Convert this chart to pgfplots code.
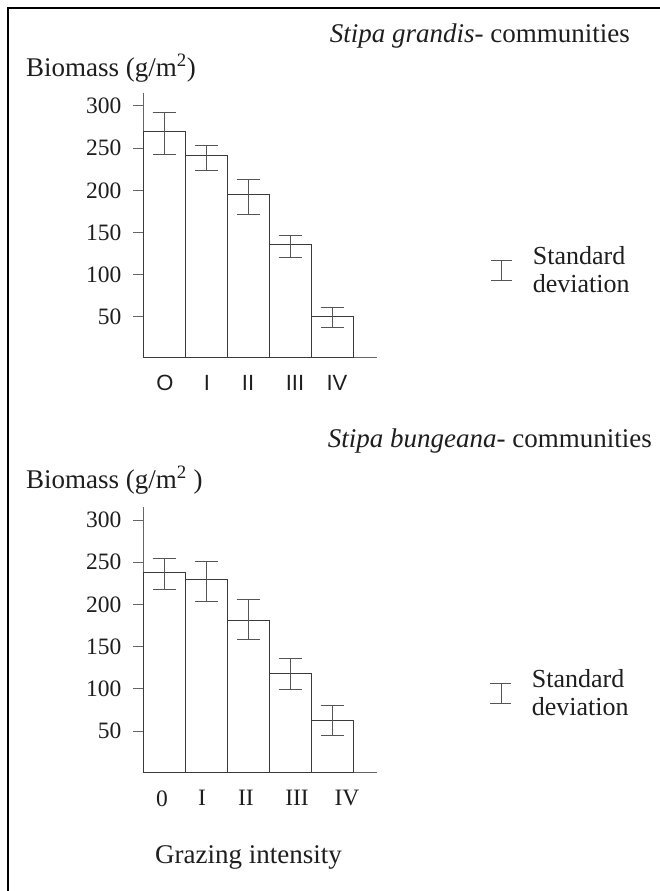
\documentclass[border=0pt]{standalone}
\usepackage{fontspec}
\setmainfont{Liberation Serif}
\setsansfont{Liberation Sans}
\usepackage{pgfplots}
\pgfplotsset{compat=1.18}
\usepackage{pgfplotstable}

\pgfplotstableread{
x y ep em
0 270 22 28
1 241 12 17
2 195 18 23
3 136 11 15
4 50 11 13
}\grandis
\pgfplotstableread{
x y ep em
0 238 16 20
1 230 21 26
2 181 25 23
3 118 18 19
4 63 17 18
}\bungeana

\definecolor{barline}{HTML}{3A3A3A}
\definecolor{axisgray}{HTML}{666666}
\definecolor{errgray}{HTML}{555555}
\definecolor{txt}{HTML}{1E1E1E}

\pgfplotsset{
 panel/.style={
  scale only axis, width=234pt, height=264.6pt,
  xmin=-0.5, xmax=5.071, ymin=1.5, ymax=315,
  axis x line*=bottom, axis y line*=left,
  axis line style={axisgray, line width=1pt},
  ytick={50,100,...,300},
  tick align=outside, major tick length=10pt,
  y tick style={axisgray, line width=1pt},
  x tick style={draw=none},
  /pgf/number format/assume math mode=true,
  yticklabel style={font=\fontsize{23.5}{27}\selectfont, text=txt, xshift=-8pt},
  clip=false,
  legend style={draw=none, fill=none, inner sep=0pt, outer sep=0pt, anchor=west,
    font=\fontsize{26}{28}\selectfont, text=txt, nodes={align=left, inner sep=0pt}, column sep=20pt},
 },
 sdbars/.style={ybar, bar width=42pt, fill=white, draw=barline, line width=1pt,
   error bars/.cd, y dir=both, y explicit, error mark=|,
   error bar style={errgray, line width=0.9pt},
   error mark options={errgray, line width=0.9pt, mark size=11.5pt}},
 sdimage/.style={legend image code/.code={\draw[errgray, line width=0.9pt] (0pt,-10pt)--(21pt,-10pt) (0pt,10pt)--(21pt,10pt) (10.5pt,-10pt)--(10.5pt,10pt);}},
}

\begin{document}
\begin{tikzpicture}
\path[use as bounding box] (0pt,0pt) rectangle (660pt,-891pt);
\draw[line width=2.8pt, black] (8pt,-891pt) -- (8pt,-8pt) -- (660pt,-8pt);

\begin{axis}[panel, at={(143pt,-357.9pt)}, anchor=south west,
  xtick={0.024,1.024,2.0,3.119,4.119}, xticklabels={O,I,II,III,IV},
  xticklabel style={font=\sffamily\fontsize{22}{26}\selectfont, text=txt, yshift=-4pt},
  legend style={at={(1.487,0.330)}}]
\addlegendimage{sdimage}
\addlegendentry{Standard\\deviation}
\addplot[sdbars] table[x=x, y=y, y error plus=ep, y error minus=em] {\grandis};
\end{axis}

\begin{axis}[panel, at={(143pt,-772pt)}, anchor=south west,
  xtick={-0.048,0.905,1.952,3.167,4.357}, xticklabels={0,I,II,III,IV},
  xticklabel style={font=\fontsize{23.5}{27}\selectfont, text=txt, yshift=-5pt},
  legend style={at={(1.483,0.298)}}]
\addlegendimage{sdimage}
\addlegendentry{Standard\\deviation}
\addplot[sdbars] table[x=x, y=y, y error plus=ep, y error minus=em] {\bungeana};
\end{axis}

\node[anchor=base west, text=txt, font=\fontsize{27}{30}\selectfont, inner sep=0pt] at (26pt,-76pt) {Biomass (g/m\textsuperscript{2})};
\node[anchor=base east, text=txt, font=\fontsize{27}{30}\selectfont, inner sep=0pt] at (630pt,-43pt) {\textit{Stipa grandis}- communities};
\node[anchor=base west, text=txt, font=\fontsize{27}{30}\selectfont, inner sep=0pt] at (26pt,-488pt) {Biomass (g/m\textsuperscript{2} )};
\node[anchor=base east, text=txt, font=\fontsize{27}{30}\selectfont, inner sep=0pt] at (652pt,-447pt) {\textit{Stipa bungeana}- communities};
\node[anchor=base west, text=txt, font=\fontsize{27}{30}\selectfont, inner sep=0pt] at (155pt,-863pt) {Grazing intensity};
\end{tikzpicture}
\end{document}
